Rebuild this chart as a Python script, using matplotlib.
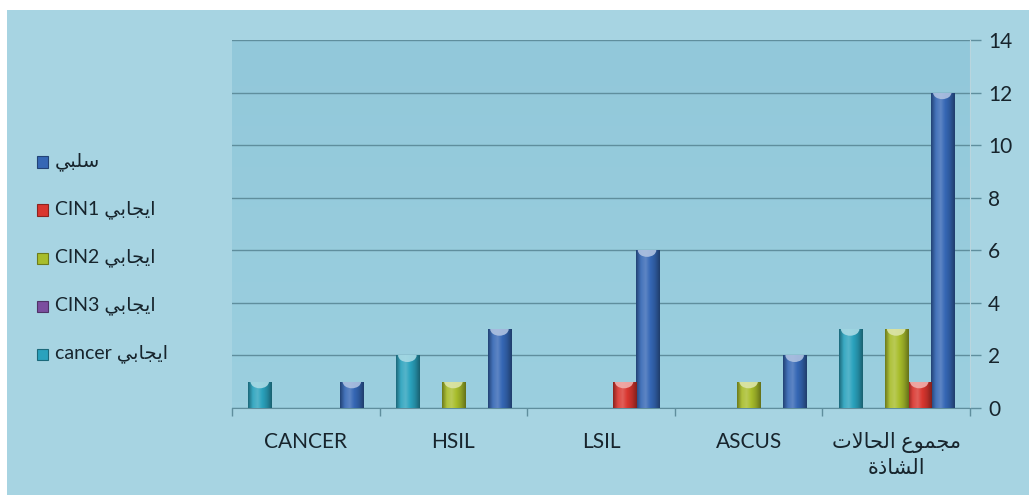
import numpy as np
import matplotlib
matplotlib.use("Agg")
import matplotlib.pyplot as plt
from matplotlib.patches import Rectangle, Ellipse
from matplotlib.colors import LinearSegmentedColormap, to_rgb

# ---------------------------------------------------------------- data
categories = ["مجموع الحالات\nالشاذة", "ASCUS", "LSIL", "HSIL", "CANCER"]
series_names = ["سلبي", "ايجابي CIN1", "ايجابي CIN2", "ايجابي CIN3", "ايجابي cancer"]
negative = [12, 2, 6, 3, 1]
cin1_pos = [1, 0, 1, 0, 0]
cin2_pos = [3, 1, 0, 1, 0]
cin3_pos = [0, 0, 0, 0, 0]
cancer_pos = [3, 0, 0, 2, 1]
y_ticks = [0, 2, 4, 6, 8, 10, 12, 14]

series_values = [negative, cin1_pos, cin2_pos, cin3_pos, cancer_pos]
series_colors = ["#3567b5", "#d9362f", "#a8bd2b", "#7b4e9f", "#2aa2bd"]

# ------------------------------------------------- Arabic text shaping
# (isolated, final, initial, medial) presentation forms
_FORMS = {
    "ا": ("\uFE8D", "\uFE8E", None, None),
    "ب": ("\uFE8F", "\uFE90", "\uFE91", "\uFE92"),
    "ة": ("\uFE93", "\uFE94", None, None),
    "ت": ("\uFE95", "\uFE96", "\uFE97", "\uFE98"),
    "ج": ("\uFE9D", "\uFE9E", "\uFE9F", "\uFEA0"),
    "ح": ("\uFEA1", "\uFEA2", "\uFEA3", "\uFEA4"),
    "ذ": ("\uFEAB", "\uFEAC", None, None),
    "س": ("\uFEB1", "\uFEB2", "\uFEB3", "\uFEB4"),
    "ش": ("\uFEB5", "\uFEB6", "\uFEB7", "\uFEB8"),
    "ع": ("\uFEC9", "\uFECA", "\uFECB", "\uFECC"),
    "ل": ("\uFEDD", "\uFEDE", "\uFEDF", "\uFEE0"),
    "م": ("\uFEE1", "\uFEE2", "\uFEE3", "\uFEE4"),
    "و": ("\uFEED", "\uFEEE", None, None),
    "ي": ("\uFEF1", "\uFEF2", "\uFEF3", "\uFEF4"),
}


def _shape_word(word):
    chars = list(word)
    out = []
    i = 0
    while i < len(chars):
        c = chars[i]
        if c not in _FORMS:
            out.append(c)
            i += 1
            continue
        prev = chars[i - 1] if i > 0 else None
        joins_prev = prev in _FORMS and _FORMS[prev][2] is not None
        if c == "ل" and i + 1 < len(chars) and chars[i + 1] == "ا":
            out.append("\uFEFC" if joins_prev else "\uFEFB")
            i += 2
            continue
        nxt = chars[i + 1] if i + 1 < len(chars) else None
        joins_next = _FORMS[c][2] is not None and nxt in _FORMS
        iso, fin, ini, med = _FORMS[c]
        if joins_prev and joins_next:
            out.append(med)
        elif joins_prev:
            out.append(fin)
        elif joins_next:
            out.append(ini)
        else:
            out.append(iso)
        i += 1
    return "".join(out)


def _rtl_line(text):
    vis = []
    for w in reversed(text.split(" ")):
        if any(ch in _FORMS for ch in w):
            vis.append(_shape_word(w)[::-1])
        else:
            vis.append(w)
    return " ".join(vis)


def rtl(text):
    return "\n".join(_rtl_line(line) for line in text.split("\n"))


# ---------------------------------------------------------------- style
plt.rcParams["font.family"] = ["Lato", "DejaVu Sans"]
TEXT_COLOR = "#17242c"
GRID_COLOR = "#5f8e9d"

W, H = 1029, 495
fig = plt.figure(figsize=(W / 100, H / 100), dpi=100, facecolor="white")

# light blue chart panel
fig.add_artist(Rectangle((7 / W, 0), 1, (H - 10) / H, transform=fig.transFigure,
                         facecolor="#a7d4e2", edgecolor="none", zorder=-10))

ax = fig.add_axes([232 / W, 1 - 408 / H, (970 - 232) / W, (408 - 40) / H])
ax.set_facecolor("#95cadb")
bg = np.linspace(0, 1, 64).reshape(-1, 1)
bg_cmap = LinearSegmentedColormap.from_list("plotbg", ["#9bcfdf", "#92c8da"])
ax.imshow(bg, extent=(0, 1, 0, 1), transform=ax.transAxes, cmap=bg_cmap,
          aspect="auto", origin="lower", zorder=0)


def _mix(c, t, amount):
    c = np.array(to_rgb(c))
    t = np.array(to_rgb(t))
    return tuple(c + (t - c) * amount)


x = np.arange(len(categories))
bar_w = 0.156
n_series = len(series_values)

for i, (vals, col) in enumerate(zip(series_values, series_colors)):
    offs = x + (i - (n_series - 1) / 2) * bar_w
    bars = ax.bar(offs, vals, width=bar_w, color=col, edgecolor="none", zorder=3)
    shade = LinearSegmentedColormap.from_list(
        "shade" + str(i),
        [_mix(col, "black", 0.35), _mix(col, "white", 0.08), _mix(col, "white", 0.2),
         col, _mix(col, "black", 0.15), _mix(col, "black", 0.4)])
    grad = np.linspace(0, 1, 64).reshape(1, -1)
    for p in bars.patches:
        h = p.get_height()
        if h <= 0:
            continue
        x0, wd = p.get_x(), p.get_width()
        im = ax.imshow(grad, extent=(x0 + wd, x0, 0, h), cmap=shade,
                       aspect="auto", zorder=3.1)
        im.set_clip_path(p)
        cap = Ellipse((x0 + wd / 2, h), wd * 0.8, 0.5,
                      facecolor=_mix(col, "white", 0.6), edgecolor="none",
                      alpha=0.9, zorder=3.2)
        ax.add_patch(cap)
        cap.set_clip_path(p)

ax.set_xlim(len(categories) - 0.5, -0.5)
ax.set_ylim(0, 14)

# axes, ticks and grid
ax.set_yticks(y_ticks)
ax.yaxis.tick_right()
ax.yaxis.grid(True, color=GRID_COLOR, lw=1, zorder=1)
ax.set_axisbelow(True)
ax.tick_params(axis="y", right=True, left=False, length=8, width=1,
               color=GRID_COLOR, labelsize=15, labelcolor=TEXT_COLOR, pad=5)

ax.set_xticks(x)
ax.set_xticklabels([rtl(c) for c in categories], fontsize=15, color=TEXT_COLOR,
                   linespacing=1.35, va="top")
ax.set_xticks(np.arange(len(categories) + 1) - 0.5, minor=True)
ax.tick_params(axis="x", which="major", length=0, pad=17)
ax.tick_params(axis="x", which="minor", length=6, width=1, color=GRID_COLOR)

for s in ("top", "left"):
    ax.spines[s].set_visible(False)
ax.spines["bottom"].set_color(GRID_COLOR)
ax.spines["right"].set_color("#b9d5de")

# legend column on the left
row_y = [162, 210, 258, 306, 354]
for name, col, yy in zip(series_names, series_colors, row_y):
    fy = 1 - yy / H
    fig.add_artist(Rectangle((37 / W, fy - 5.5 / H), 11 / W, 11 / H,
                             transform=fig.transFigure, facecolor=col,
                             edgecolor=_mix(col, "black", 0.35), lw=0.8, zorder=5))
    fig.text(55 / W, fy, rtl(name), fontsize=14, color=TEXT_COLOR,
             va="center", ha="left")

fig.savefig("out.png", dpi=100, facecolor="white")
